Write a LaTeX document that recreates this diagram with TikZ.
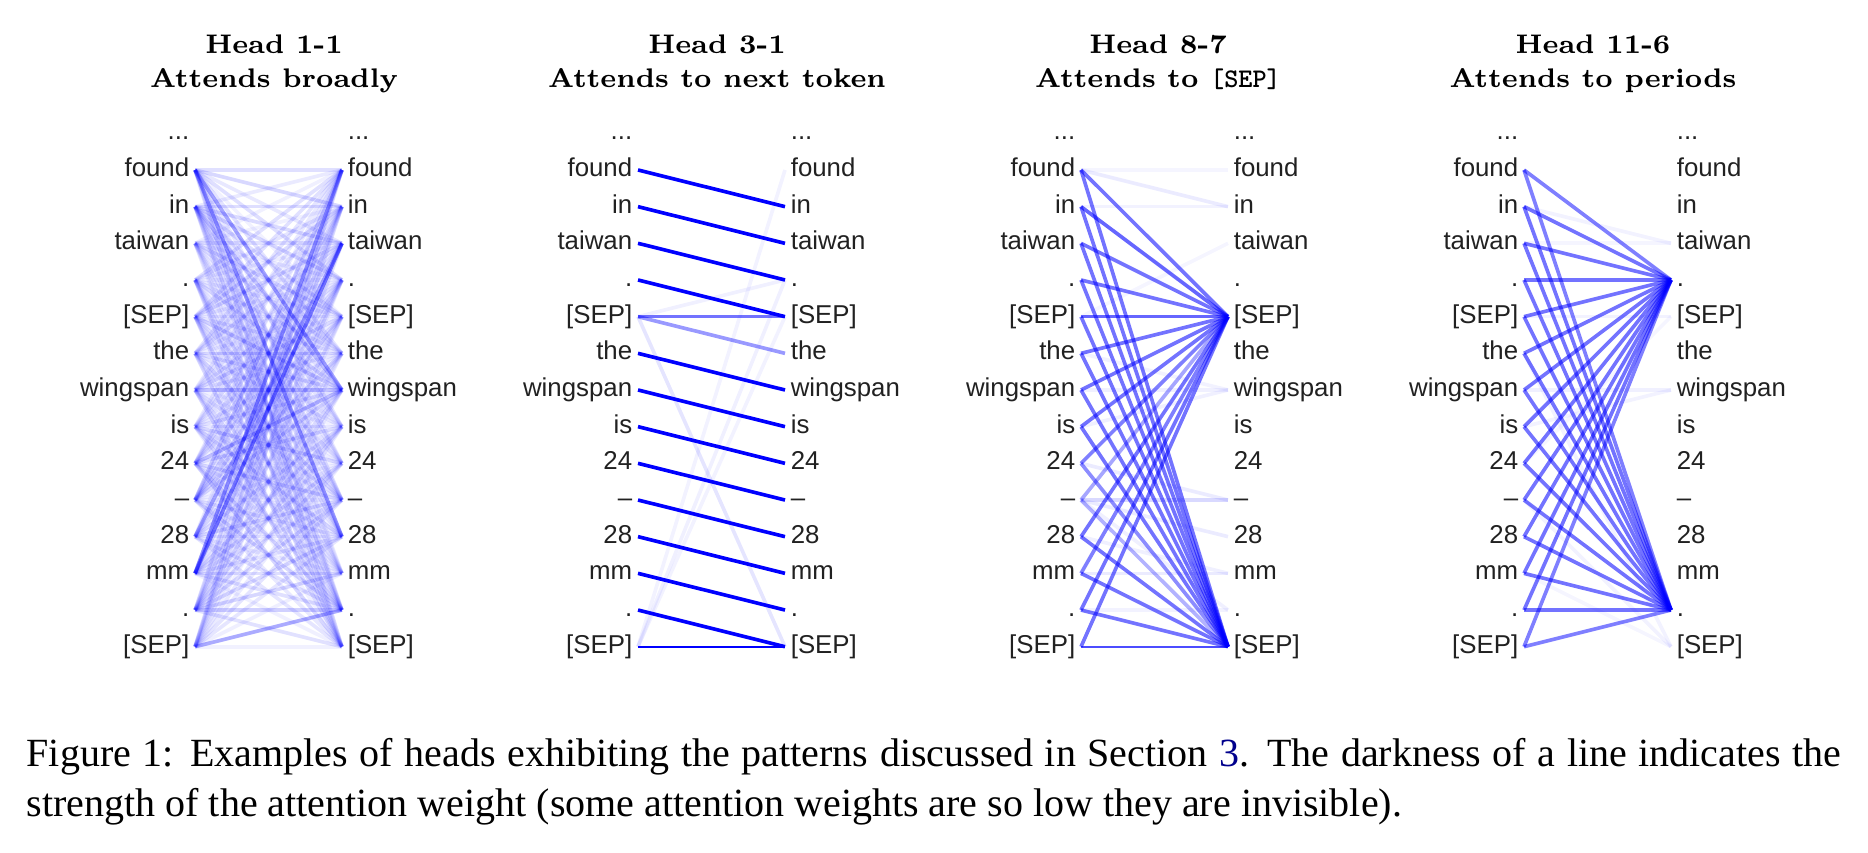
\documentclass[tikz,border=0pt]{standalone}
\usepackage{fontspec}
\setmainfont{Liberation Serif}
\newfontfamily\tokfont{Liberation Sans}
\newfontfamily\headfont{Latin Modern Roman}
\newfontfamily\septtfont{lmmonolt10-bold.otf}
\usetikzlibrary{positioning}
\definecolor{linkblue}{rgb}{0,0,0.55}
\definecolor{tokgray}{gray}{0.13}

\tikzset{
  tok/.style={font=\tokfont\fontsize{7.1}{8}\selectfont, text=tokgray,
    text height=3.6pt, text depth=0pt, inner xsep=1.6pt, inner ysep=0pt, outer sep=0pt},
  head/.style={font=\headfont\bfseries\fontsize{7.4}{9}\selectfont, inner sep=0pt},
  att/.style={draw=blue, line width=1pt, draw opacity=#1},
  captext/.style={font=\fontsize{11}{13.6}\selectfont, inner sep=0pt, text width=499pt, align=justify}
}

\begin{document}
\begin{tikzpicture}[x=0.275pt, y=-0.275pt]
\useasboundingbox (0,0) rectangle (1868,852);

% titles
\foreach \p/\xc/\hd/\sub in {a/274/{Head 1-1}/{Attends broadly},
    b/717/{Head 3-1}/{Attends to next token},
    c/1158/{Head 8-7}/{Attends to {\septtfont[SEP]}},
    d/1593/{Head 11-6}/{Attends to periods}} {
  \node[head,anchor=base] (\p-h) at (\xc,53) {\hd};
  \node[head,anchor=base] (\p-s) at (\xc,87) {\sub};
}

% tokens, left and right column of each head
\foreach \p/\xl in {a/195,b/638,c/1081,d/1524} {
  \node[tok,anchor=east] (\p-l0) at (\xl,133.3) {...};
  \node[tok,anchor=west] (\p-r0) at (\xl+147,133.3) {...};
  \foreach \t [count=\k] in {found,in,taiwan,.,{[SEP]},the,wingspan,is,24,\textendash,28,mm,.,{[SEP]}} {
    \node[tok,anchor=east] (\p-l\k) at (\xl,133.3+36.67*\k) {\t};
    \node[tok,anchor=west] (\p-r\k) at (\xl+147,133.3+36.67*\k) {\t};
  }
}

% head 1-1
\pgfmathsetseed{11}
\foreach \i in {1,...,14}
  \foreach \j in {1,...,14} {
    \pgfmathsetmacro\w{0.05+0.11*rnd}
    \draw[att=\w] (a-l\i.east) -- (a-r\j.west);
  }
\foreach \i/\j/\w in {1/7/.3,1/11/.3,2/7/.15,12/3/.45,12/1/.3,11/3/.2,14/13/.2,10/1/.15,
    9/7/.12,7/7/.1,13/13/.1,5/7/.1}
  \draw[att=\w] (a-l\i.east) -- (a-r\j.west);

% head 3-1
\foreach \i/\j in {1/2,2/3,3/4,4/5,6/7,7/8,8/9,9/10,10/11,11/12,12/13,13/14}
  \draw[att=1] (b-l\i.east) -- (b-r\j.west);
\foreach \i/\j/\w in {5/5/.55,5/6/.4,5/14/.1,5/4/.06,14/1/.05,14/4/.06,14/5/.05}
  \draw[att=\w] (b-l\i.east) -- (b-r\j.west);
\draw[att=1, line width=.5pt] (b-l14.east) -- (b-r14.west);

% head 8-7
\foreach \i/\w in {1/.55,2/.6,3/.55,4/.55,5/.6,6/.55,7/.55,8/.55,9/.5,10/.35,11/.55,12/.5,13/.55,14/.55}
  \draw[att=\w] (c-l\i.east) -- (c-r5.west);
\foreach \i/\w in {1/.55,2/.55,3/.55,4/.55,5/.55,6/.55,7/.55,8/.55,9/.45,10/.3,11/.55,12/.55,13/.55}
  \draw[att=\w] (c-l\i.east) -- (c-r14.west);
\draw[att=.7, line width=.5pt] (c-l14.east) -- (c-r14.west);
\foreach \i/\j/\w in {1/2/.08,1/1/.04,2/2/.05,7/7/.06,8/7/.06,9/10/.08,10/10/.15,10/11/.08,
    11/12/.06,12/12/.08,10/13/.06,13/13/.05,5/3/.04,6/7/.05}
  \draw[att=\w] (c-l\i.east) -- (c-r\j.west);

% head 11-6
\foreach \i/\w in {1/.5,2/.55,3/.55,4/.55,5/.55,6/.55,7/.55,8/.55,9/.55,10/.55,11/.55,12/.55,13/.55,14/.5} {
  \draw[att=\w] (d-l\i.east) -- (d-r4.west);
  \draw[att=\w] (d-l\i.east) -- (d-r13.west);
}
\foreach \i/\j/\w in {7/7/.06,5/5/.05,2/3/.05,8/7/.05,6/14/.05,12/14/.04,10/14/.05,3/3/.04,9/5/.04}
  \draw[att=\w] (d-l\i.east) -- (d-r\j.west);

% caption
\node[captext,anchor=north west] (caption) at (26,738) {Figure 1: Examples of heads exhibiting the patterns discussed in Section \textcolor{linkblue}{3}. The darkness of a line indicates the\linebreak strength of the attention weight (some attention weights are so low they are invisible).};
\end{tikzpicture}
\end{document}
